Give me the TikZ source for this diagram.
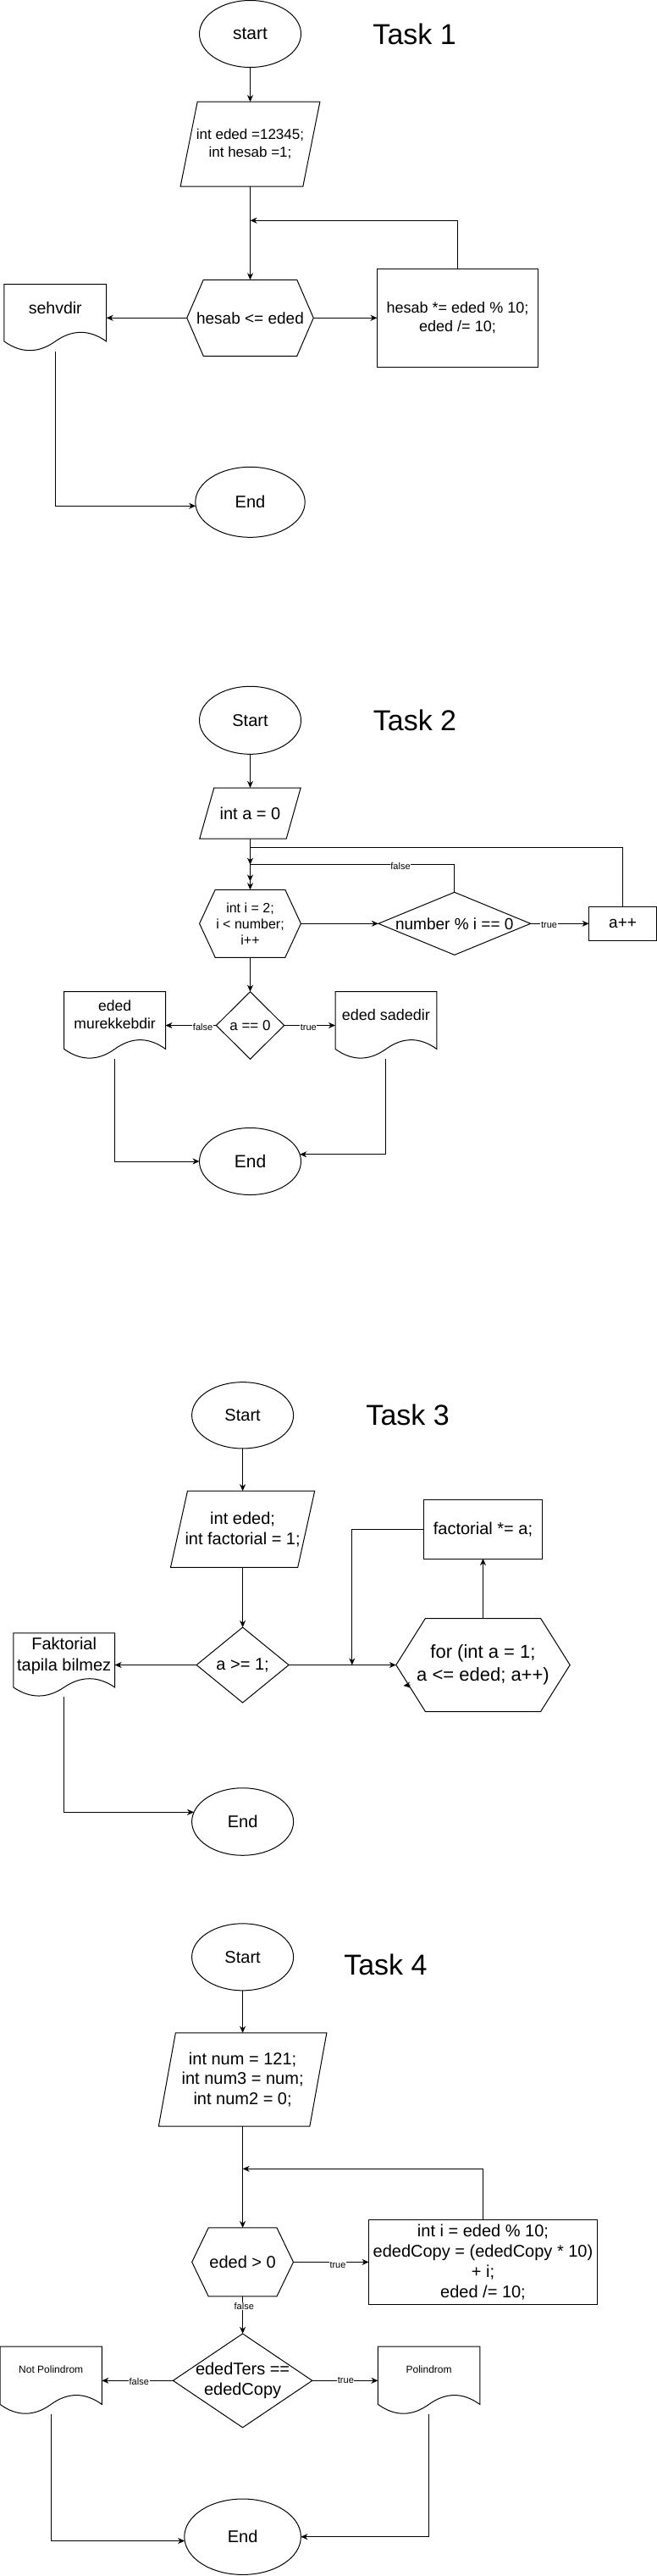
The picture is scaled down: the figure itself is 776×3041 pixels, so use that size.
\documentclass[tikz,border=0pt]{standalone}
\usepackage{fontspec}
\setmainfont{Liberation Sans}
\usetikzlibrary{shapes.geometric,arrows.meta,calc}
\newcommand\mkhex[2]{\draw (#2.west) -- ([xshift=#1pt]#2.north west) -- ([xshift=-#1pt]#2.north east) -- (#2.east) -- ([xshift=-#1pt]#2.south east) -- ([xshift=#1pt]#2.south west) -- cycle;}
\newcommand\mkpara[2]{\draw ([xshift=#1pt]#2.north west) -- (#2.north east) -- ([xshift=-#1pt]#2.south east) -- (#2.south west) -- cycle;}
\newcommand\mkdia[1]{\draw (#1.north) -- (#1.east) -- (#1.south) -- (#1.west) -- cycle;}
\newcommand\mkdoc[1]{\draw let \p1=(#1.north west), \p2=(#1.south east), \n1={\x2-\x1}, \n2={\y1-\y2} in (\x1,\y1) -- (\x2,\y1) -- (\x2,{\y2+0.15*\n2}) .. controls ({\x2-\n1/6},{\y2+0.33*\n2}) and ({\x1+0.6667*\n1},{\y2+0.33*\n2}) .. ({\x1+0.5*\n1},{\y2+0.15*\n2}) .. controls ({\x1+0.3333*\n1},{\y2-0.03*\n2}) and ({\x1+0.1667*\n1},{\y2-0.03*\n2}) .. (\x1,{\y2+0.15*\n2}) -- cycle;}
\begin{document}
\begin{tikzpicture}[x=1pt,y=-1pt,line width=1pt,
  every node/.style={inner sep=0pt,outer sep=0pt},
  fs/.style 2 args={font=\fontsize{#1}{#2}\selectfont},
  arr/.style={-{Stealth[length=8pt,width=7pt,inset=2.5pt]}},
  bx/.style={rectangle,align=center,inner sep=0pt},
  lbl/.style={fill=white,fs={11}{13},inner sep=0.6pt}]
\fill[white] (0,0) rectangle (776,3041);
\useasboundingbox (0,0) rectangle (776,3041);

% ---------------- Task 1 ----------------
\node[ellipse,draw,minimum width=120pt,minimum height=79pt,fs={21}{25}] (s1) at (295.5,40) {start};
\node[fs={34}{40}] (t1) at (489.6,40) {Task 1};
\node[bx,minimum width=164.7pt,minimum height=99.8pt,fs={17}{21.5}] (p1) at (295.5,170.1) {int eded =12345;\\int hesab =1;};
\mkpara{20}{p1}
\node[bx,minimum width=149.5pt,minimum height=90pt,fs={19}{23}] (h1) at (295.5,375.3) {hesab <= eded};
\mkhex{19.5}{h1}
\node[bx,draw,minimum width=190pt,minimum height=116pt,fs={18}{21.5}] (r1) at (540.5,375.3) {hesab *= eded \% 10;\\eded /= 10;};
\node[bx,minimum width=120.7pt,minimum height=79.2pt] (d1) at (65.3,375.3) {};
\mkdoc{d1}
\node[fs={19.5}{23}] (d1t) at (65.3,364) {sehvdir};
\node[ellipse,draw,minimum width=129.4pt,minimum height=83pt,fs={20}{24}] (e1) at (295.5,592.8) {End};
\coordinate (j1) at (295.5,260.3);
\draw[arr] (s1.south) -- (p1.north);
\draw[arr] (p1.south) -- (h1.north);
\draw[arr] (h1.east) -- (r1.west);
\draw[arr] (h1.west) -- (d1.east);
\draw[arr] (r1.north) |- (j1);
\draw[arr] (d1.south) |- (e1.184);

% ---------------- Task 2 ----------------
\node[ellipse,draw,minimum width=120pt,minimum height=80pt,fs={20}{24}] (s2) at (295.5,850.3) {Start};
\node[fs={34}{40}] (t2) at (490,850.7) {Task 2};
\node[bx,minimum width=119.4pt,minimum height=60pt,fs={20}{24}] (p2) at (295.5,960) {int a = 0};
\mkpara{17}{p2}
\node[bx,minimum width=119.8pt,minimum height=80pt,fs={16}{19}] (h2) at (295.5,1090.3) {int i = 2;\\i < number;\\i++};
\mkhex{18.6}{h2}
\node[bx,minimum width=179.7pt,minimum height=74pt,fs={19}{23}] (m2) at (536.8,1090.3) {number \% i == 0};
\mkdia{m2}
\node[bx,draw,minimum width=80pt,minimum height=39.5pt,fs={19}{23}] (r2) at (735.6,1090.3) {a++};
\node[bx,minimum width=80.2pt,minimum height=79.6pt,fs={17}{20}] (m3) at (295.5,1210.5) {a == 0};
\mkdia{m3}
\node[bx,minimum width=119.8pt,minimum height=79.6pt] (d2) at (135.6,1210.5) {};
\mkdoc{d2}
\node[fs={17.5}{21},align=center] (d2t) at (135.6,1198) {eded\\murekkebdir};
\node[bx,minimum width=119.8pt,minimum height=79.6pt] (d3) at (455.9,1210.5) {};
\mkdoc{d3}
\node[fs={18}{21}] (d3t) at (455.9,1198) {eded sadedir};
\node[ellipse,draw,minimum width=120pt,minimum height=79pt,fs={21}{25}] (e2) at (295.5,1371) {End};
\coordinate (j2a) at (295.5,1000.7);
\coordinate (j2b) at (295.5,1020.7);
\coordinate (j2c) at (295.5,1040.5);
\draw[arr] (s2.south) -- (p2.north);
\draw[arr] (p2.south) -- (h2.north);
\draw[arr] (r2.north) |- (j2a) -- (j2b);
\draw[arr] (m2.north) |- (j2b) -- (j2c);
\draw[arr] (h2.east) -- (m2.west);
\draw[arr] (m2.east) -- (r2.west);
\draw[arr] (h2.south) -- (m3.north);
\draw[arr] (m3.west) -- (d2.east);
\draw[arr] (m3.east) -- (d3.west);
\draw[arr] (d2.south) |- (e2.west);
\draw[arr] (d3.south) |- (e2.8);
\node[lbl] (l2a) at (473,1023) {false};
\node[lbl] (l2b) at (648.5,1091.5) {true};
\node[lbl] (l2c) at (239.6,1212.5) {false};
\node[lbl] (l2d) at (364.3,1212.5) {true};

% ---------------- Task 3 ----------------
\node[ellipse,draw,minimum width=120pt,minimum height=78.3pt,fs={20}{24}] (s3) at (286.6,1670.8) {Start};
\node[fs={34}{40}] (t3) at (481.6,1670.4) {Task 3};
\node[bx,minimum width=170.2pt,minimum height=90.2pt,fs={20}{24}] (p3) at (286.6,1805.2) {int eded;\\int factorial = 1;};
\mkpara{20}{p3}
\node[bx,minimum width=109pt,minimum height=89pt,fs={20}{24}] (m4) at (286.6,1965.5) {a >= 1;};
\mkdia{m4}
\node[bx,minimum width=119.8pt,minimum height=75.3pt] (d4) at (75.7,1965.5) {};
\mkdoc{d4}
\node[fs={20}{24.5},align=center] (d4t) at (75.7,1954.6) {Faktorial\\tapila bilmez};
\node[bx,minimum width=205.4pt,minimum height=110pt,fs={22}{27.5}] (h3) at (570.5,1965.5) {for (int a = 1;\\a <= eded; a++)};
\mkhex{34.6}{h3}
\node[bx,draw,minimum width=140.5pt,minimum height=69.6pt,fs={20}{24}] (r3) at (570.5,1805.2) {factorial *= a;};
\node[ellipse,draw,minimum width=120pt,minimum height=79.5pt,fs={20}{24}] (e3) at (286.6,2150.5) {End};
\coordinate (j3) at (415.8,1965.5);
\coordinate (j3s) at (484.5,1989);
\coordinate (j3e) at (476.5,1990);
\draw[arr] (s3.south) -- (p3.north);
\draw[arr] (p3.south) -- (m4.north);
\draw[arr] (m4.west) -- (d4.east);
\draw[arr] (m4.east) -- (h3.west);
\draw[arr] (h3.north) -- (r3.south);
\draw[arr] (r3.west) -| (j3);
\draw[arr] (d4.south) |- (e3.169);
\draw[arr] (j3s) -- (j3e);

% ---------------- Task 4 ----------------
\node[ellipse,draw,minimum width=120pt,minimum height=79pt,fs={20}{24}] (s4) at (286.6,2310.3) {Start};
\node[fs={34}{40}] (t4) at (455.4,2319.2) {Task 4};
\node[bx,minimum width=198.5pt,minimum height=110.3pt,fs={20}{23.7}] (p4) at (286.6,2455) {int num = 121;\\int num3 = num;\\int num2 = 0;};
\mkpara{20}{p4}
\node[bx,minimum width=119.8pt,minimum height=80.9pt,fs={20}{24}] (h4) at (286.6,2670.4) {eded > 0};
\mkhex{19.5}{h4}
\node[bx,draw,minimum width=269.8pt,minimum height=99.6pt,fs={20}{23.8}] (r4) at (570.5,2670.4) {int i = eded \% 10;\\ededCopy = (ededCopy * 10)\\+ i;\\eded /= 10;};
\node[bx,minimum width=164.4pt,minimum height=110.8pt,fs={20}{24}] (m5) at (286.6,2810.3) {ededTers ==\\ededCopy};
\mkdia{m5}
\node[bx,minimum width=120.3pt,minimum height=80.2pt] (d5) at (60.2,2810.3) {};
\mkdoc{d5}
\node[fs={12}{14}] (d5t) at (60.2,2797.3) {Not Polindrom};
\node[bx,minimum width=120.3pt,minimum height=80.2pt] (d6) at (506.6,2810.3) {};
\mkdoc{d6}
\node[fs={12}{14}] (d6t) at (506.6,2797.3) {Polindrom};
\node[ellipse,draw,minimum width=137.6pt,minimum height=89.4pt,fs={20}{24}] (e4) at (286.6,2994.7) {End};
\coordinate (j4) at (286.6,2560.3);
\draw[arr] (s4.south) -- (p4.north);
\draw[arr] (p4.south) -- (h4.north);
\draw[arr] (r4.north) |- (j4);
\draw[arr] (h4.east) -- (r4.west);
\draw[arr] (h4.south) -- (m5.north);
\draw[arr] (m5.west) -- (d5.east);
\draw[arr] (m5.east) -- (d6.west);
\draw[arr] (d5.south) |- (e4.184);
\draw[arr] (d6.south) |- (e4.east);
\node[lbl] (l4a) at (399,2673.5) {true};
\node[lbl] (l4b) at (288.3,2722.7) {false};
\node[lbl] (l4c) at (164.3,2811.5) {false};
\node[lbl] (l4d) at (408.4,2809.5) {true};
\end{tikzpicture}
\end{document}
